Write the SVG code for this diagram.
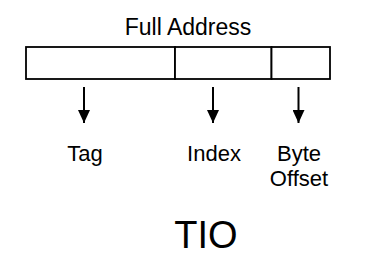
<svg xmlns="http://www.w3.org/2000/svg" width="368" height="279" viewBox="0 0 368 279">
  <style>
    .lbl { font-family: "Liberation Sans", Arial, Helvetica, sans-serif; font-size: 22px; fill: #000; text-anchor: middle; }
    .title { font-size: 23px; }
    .big { font-size: 38px; }
    .field { fill: #fff; stroke: #000; stroke-width: 1.8; }
    .arrow { stroke: #000; stroke-width: 2; fill: none; }
  </style>
  <defs>
    <marker id="head" viewBox="0 0 13 12" refX="13" refY="6" markerWidth="13" markerHeight="12" markerUnits="userSpaceOnUse" orient="auto">
      <path d="M0,0 L13,6 L0,12 Z" fill="#000"/>
    </marker>
  </defs>

  <text class="lbl title" x="188" y="35">Full Address</text>

  <!-- address register split into fields -->
  <g id="tag-field"><rect class="field" x="26" y="47" width="149" height="32"/></g>
  <g id="index-field"><rect class="field" x="175" y="47" width="96.5" height="32"/></g>
  <g id="offset-field"><rect class="field" x="271.5" y="47" width="58.5" height="32"/></g>

  <g id="connectors">
    <line class="arrow" x1="84" y1="87" x2="84" y2="123" marker-end="url(#head)"/>
    <line class="arrow" x1="213" y1="87" x2="213" y2="123" marker-end="url(#head)"/>
    <line class="arrow" x1="298.5" y1="87" x2="298.5" y2="123" marker-end="url(#head)"/>
  </g>

  <g id="tag"><text class="lbl" x="85" y="161">Tag</text></g>
  <g id="index"><text class="lbl" x="214" y="161">Index</text></g>
  <g id="byte-offset">
    <text class="lbl" x="299" y="161">Byte</text>
    <text class="lbl" x="299" y="186">Offset</text>
  </g>

  <text class="lbl big" x="206" y="248">TIO</text>
</svg>
